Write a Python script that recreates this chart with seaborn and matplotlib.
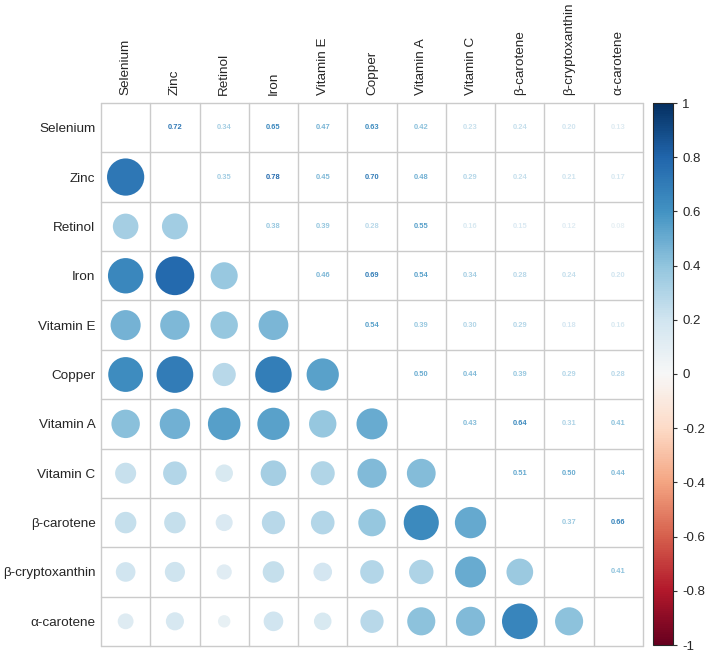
import numpy as np
import pandas as pd
import matplotlib
matplotlib.use("Agg")
import matplotlib.pyplot as plt
import seaborn as sns
from matplotlib.colors import Normalize
from matplotlib.cm import ScalarMappable

nutrients = ["Selenium", "Zinc", "Retinol", "Iron", "Vitamin E", "Copper",
             "Vitamin A", "Vitamin C", "β-carotene", "β-cryptoxanthin", "α-carotene"]

# upper triangle, row by row (values to the right of the diagonal)
r_selenium = [0.72, 0.34, 0.65, 0.47, 0.63, 0.42, 0.23, 0.24, 0.20, 0.13]
r_zinc = [0.35, 0.78, 0.45, 0.70, 0.48, 0.29, 0.24, 0.21, 0.17]
r_retinol = [0.38, 0.39, 0.28, 0.55, 0.16, 0.15, 0.12, 0.08]
r_iron = [0.46, 0.69, 0.54, 0.34, 0.28, 0.24, 0.20]
r_vit_e = [0.54, 0.39, 0.30, 0.29, 0.18, 0.16]
r_copper = [0.50, 0.44, 0.39, 0.29, 0.28]
r_vit_a = [0.43, 0.64, 0.31, 0.41]
r_vit_c = [0.51, 0.50, 0.44]
r_b_carotene = [0.37, 0.66]
r_b_crypto = [0.41]

upper_rows = [r_selenium, r_zinc, r_retinol, r_iron, r_vit_e, r_copper,
              r_vit_a, r_vit_c, r_b_carotene, r_b_crypto]

cbar_ticks = [-1, -0.8, -0.6, -0.4, -0.2, 0, 0.2, 0.4, 0.6, 0.8, 1]

n = len(nutrients)
corr = np.eye(n)
for i, vals in enumerate(upper_rows):
    for k, v in enumerate(vals):
        j = i + 1 + k
        corr[i, j] = v
        corr[j, i] = v

lower = pd.DataFrame([(j, i, corr[i, j], abs(corr[i, j]))
                      for i in range(n) for j in range(i)],
                     columns=["col", "row", "r", "absr"])

cmap = plt.get_cmap("RdBu")
norm = Normalize(-1, 1)

sns.set_style("white")
plt.rcParams["font.family"] = ["Liberation Sans", "DejaVu Sans"]

fig = plt.figure(figsize=(7.08, 6.53), dpi=100)
ax = fig.add_axes([101 / 708, 7 / 653, 542 / 708, 543 / 653])

# circle area proportional to |r|
cell_pt = 49.3 * 72 / 100
d_max = 0.89 * cell_pt
sns.scatterplot(data=lower, x="col", y="row", hue="r", palette="RdBu",
                hue_norm=(-1, 1), size="absr", sizes=(0, d_max ** 2),
                size_norm=(0, 1), linewidth=0, legend=False, ax=ax)

for i in range(n):
    for j in range(i + 1, n):
        v = corr[i, j]
        ax.text(j, i, f"{v:.2f}", ha="center", va="center", fontsize=5.4,
                fontweight="bold", color=cmap(norm(v)))

for k in range(n + 1):
    ax.axhline(k - 0.5, color="#cbcbcb", lw=1, clip_on=False, zorder=0)
    ax.axvline(k - 0.5, color="#cbcbcb", lw=1, clip_on=False, zorder=0)

ax.set_xlim(-0.5, n - 0.5)
ax.set_ylim(n - 0.5, -0.5)
ax.set_xticks(range(n))
ax.set_yticks(range(n))
ax.set_xticklabels(nutrients, rotation=90, fontsize=9.7)
ax.set_yticklabels(nutrients, fontsize=9.7)
ax.xaxis.tick_top()
ax.tick_params(axis="x", length=0, pad=6)
ax.tick_params(axis="y", length=0, pad=4)
ax.set_xlabel("")
ax.set_ylabel("")
for s in ax.spines.values():
    s.set_visible(False)

cax = fig.add_axes([653 / 708, 8 / 653, 20 / 708, 542 / 653])
cb = fig.colorbar(ScalarMappable(norm=norm, cmap=cmap), cax=cax, ticks=cbar_ticks)
cb.set_ticklabels([f"{t:g}" for t in cbar_ticks])
cb.ax.tick_params(labelsize=9.5, length=3, width=0.8, color="#333333")
cb.outline.set_linewidth(0.8)

fig.savefig("out.png", dpi=100)
